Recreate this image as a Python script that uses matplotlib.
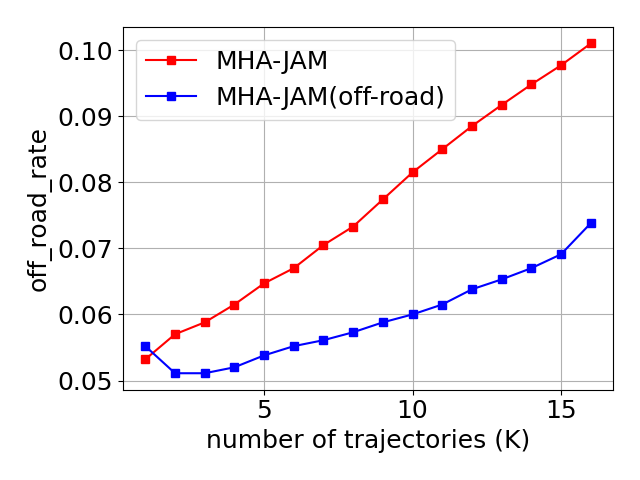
import numpy as np
import matplotlib
matplotlib.use('Agg')
import matplotlib.pyplot as plt

# number of trajectories K
k = np.arange(1, 17)

# off-road rate per K
mha_jam = [0.0532, 0.0570, 0.0588, 0.0615, 0.0647, 0.0670, 0.0705, 0.0733,
           0.0774, 0.0815, 0.0850, 0.0885, 0.0917, 0.0948, 0.0977, 0.1010]
mha_jam_offroad = [0.0552, 0.0511, 0.0511, 0.0520, 0.0538, 0.0552, 0.0561, 0.0573,
                   0.0588, 0.0600, 0.0615, 0.0638, 0.0653, 0.0670, 0.0691, 0.0738]

plt.rcParams['font.size'] = 18

fig, ax = plt.subplots(figsize=(6.4, 4.8), dpi=100)
ax.plot(k, mha_jam, 'rs-', label='MHA-JAM')
ax.plot(k, mha_jam_offroad, 'bs-', label='MHA-JAM(off-road)')
ax.set_xlabel('number of trajectories (K)')
ax.set_ylabel('off_road_rate')
ax.set_yticks([0.05, 0.06, 0.07, 0.08, 0.09, 0.10])
ax.grid(True)
ax.legend(loc='upper left')

plt.tight_layout()
plt.savefig('out.png')
